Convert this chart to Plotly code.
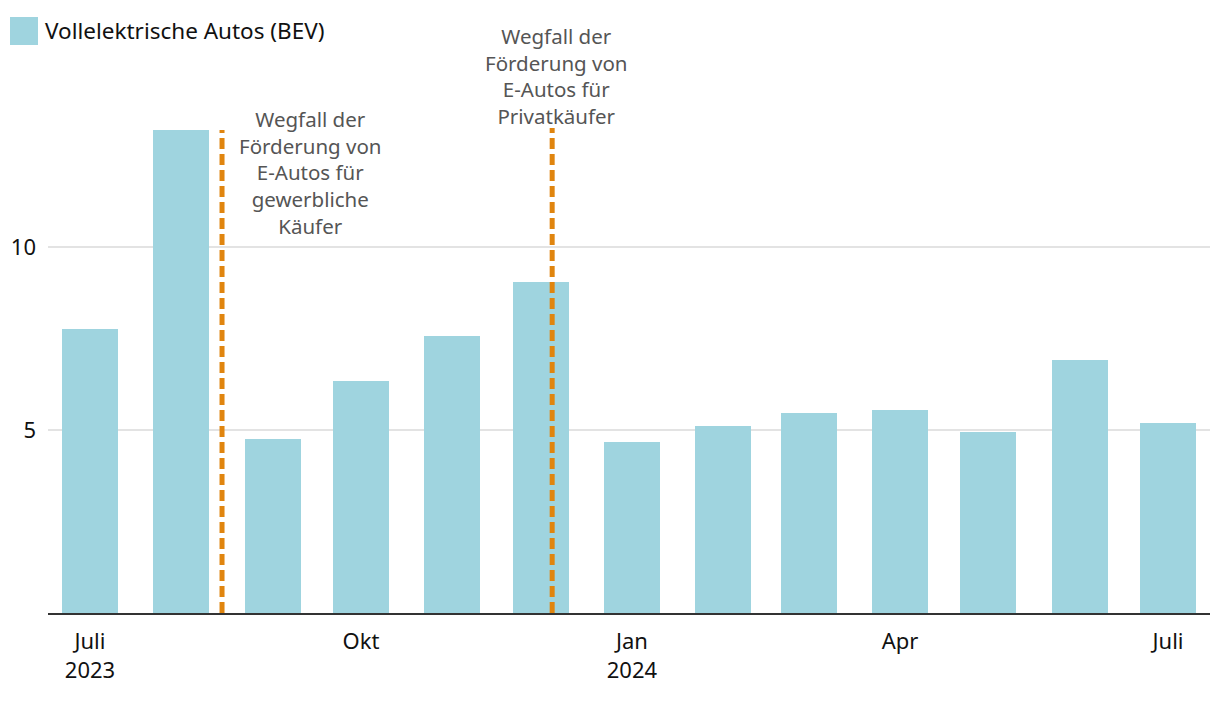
import plotly.graph_objects as go

months = ["2023-07-01", "2023-08-01", "2023-09-01", "2023-10-01", "2023-11-01", "2023-12-01",
          "2024-01-01", "2024-02-01", "2024-03-01", "2024-04-01", "2024-05-01", "2024-06-01", "2024-07-01"]
bev_share = [7.76, 13.2, 4.75, 6.34, 7.57, 9.04, 4.67, 5.11, 5.46, 5.55, 4.95, 6.91, 5.19]
series_name = "Vollelektrische Autos (BEV)"

tick_vals = ["2023-07-01", "2023-10-01", "2024-01-01", "2024-04-01", "2024-07-01"]
tick_text = ["Juli<br>2023", "Okt", "Jan<br>2024", "Apr", "Juli"]

event_dates = ["2023-08-14 20:00", "2023-12-04 22:00"]
event_tops = [13.2, 13.25]
event_texts = ["Wegfall der<br>Förderung von<br>E-Autos für<br>gewerbliche<br>Käufer",
               "Wegfall der<br>Förderung von<br>E-Autos für<br>Privatkäufer"]
label_x = ["2023-09-13 18:00", "2023-12-06 12:00"]
label_y_px = [43, -40]  # label top, px below plot top

FONT = "Noto Sans"
BAR = "#9fd4df"
# page body adds an 8px offset, so the figure is 8px smaller
W, H, L, T, R, B = 1212, 698, 40, 52, 10, 93
PW, PH = W - L - R, H - T - B


def px_x(p):
    return (p - L) / PW


def px_y(p):
    return 1 - (p - T) / PH


fig = go.Figure()
fig.add_trace(go.Bar(
    x=months, y=bev_share, name=series_name,
    marker=dict(color=BAR, line=dict(width=0)),
    width=19 * 86400000, showlegend=False,
))

for d, top in zip(event_dates, event_tops):
    fig.add_shape(type="line", x0=d, x1=d, y0=0, y1=top, xref="x", yref="y",
                  line=dict(color="#e0850f", width=5, dash="11px,5px"), layer="above")

for tx, tp, t in zip(label_x, label_y_px, event_texts):
    fig.add_annotation(x=tx, y=1 - tp / PH, xref="x", yref="paper", text=t, showarrow=False,
                       xanchor="center", yanchor="top", align="center",
                       font=dict(family=FONT, size=20.5, color="#555555"))

# legend (manual swatch + label)
fig.add_shape(type="rect", xref="paper", yref="paper",
              x0=px_x(2), x1=px_x(30), y0=px_y(37), y1=px_y(9),
              fillcolor=BAR, line=dict(width=0))
fig.add_annotation(xref="paper", yref="paper", x=px_x(35), y=px_y(23), text=series_name,
                   showarrow=False, xanchor="left", yanchor="middle",
                   font=dict(family=FONT, size=22.5, color="#111111"))

fig.update_layout(
    width=W, height=H,
    margin=dict(l=L, r=R, t=T, b=B, autoexpand=False),
    paper_bgcolor="white", plot_bgcolor="white",
    font=dict(family=FONT, size=22, color="#111111"),
    bargap=0, showlegend=False,
    xaxis=dict(type="date", range=["2023-06-16 18:00", "2024-07-15 06:00"],
               tickvals=tick_vals, ticktext=tick_text, showgrid=False, automargin=False,
               showline=True, linecolor="#333333", linewidth=2, ticks="",
               ticklabelstandoff=8,
               tickfont=dict(family=FONT, size=22, color="#111111")),
    yaxis=dict(range=[0, 15.11], tickvals=[5, 10], ticktext=["5", "10"], automargin=False,
               showgrid=True, gridcolor="#e3e3e3", gridwidth=1.5, zeroline=False,
               ticks="", ticklabelstandoff=11,
               tickfont=dict(family=FONT, size=22, color="#111111")),
)

fig.write_html("out.html")
